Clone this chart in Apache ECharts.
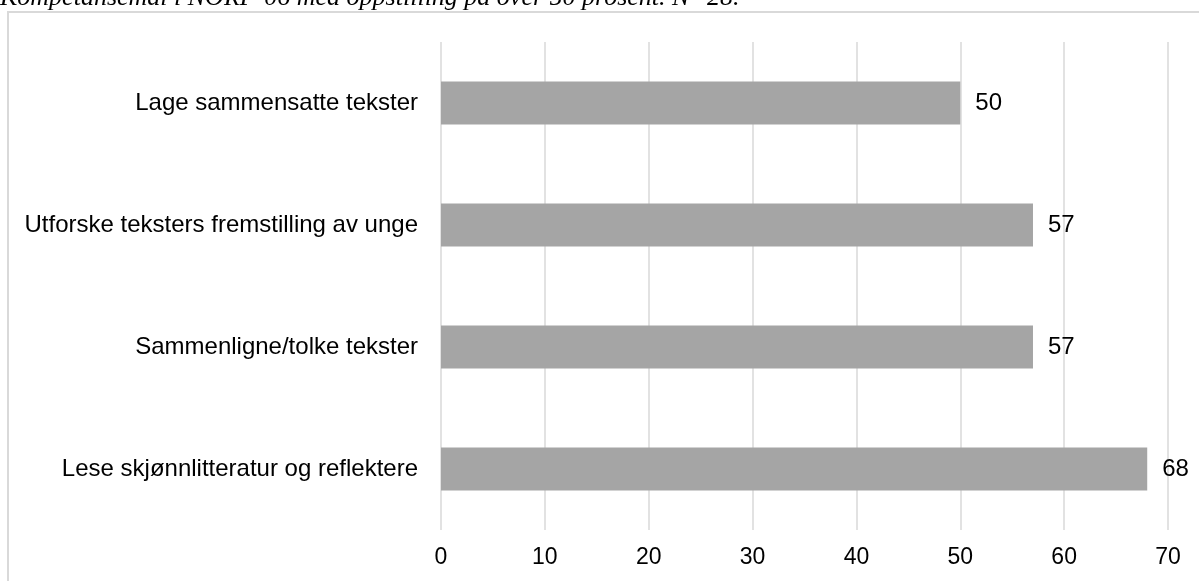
<!DOCTYPE html>
<html>
<head>
<meta charset="utf-8">
<script src="https://cdn.jsdelivr.net/npm/echarts@6/dist/echarts.min.js"></script>
<style>
  html, body { margin: 0; padding: 0; background: #ffffff; }
  #chart { width: 1199px; height: 581px; }
</style>
</head>
<body>
<div id="chart"></div>
<script>
// Competence goals, share of schools (percent)
const titleText = 'Kompetansemål i NORF-06 med oppstilling på over 50 prosent. N=28.';
const categories = [
  'Lage sammensatte tekster',
  'Utforske teksters fremstilling av unge',
  'Sammenligne/tolke tekster',
  'Lese skjønnlitteratur og reflektere'
];
const values = [50, 57, 57, 68];
const axisMin = 0;
const axisMax = 70;
const axisStep = 10;

const chart = echarts.init(document.getElementById('chart'), null, { renderer: 'canvas' });

const labelFont = 'Arial, "Liberation Sans", Helvetica, sans-serif';
const textColor = '#000000';
const gridColor = '#d9d9d9';

chart.setOption({
  backgroundColor: '#ffffff',
  animation: false,
  graphic: [
    {
      type: 'rect',
      silent: true,
      shape: { x: 8, y: 12, width: 1400, height: 800 },
      style: { fill: 'none', stroke: gridColor, lineWidth: 2 }
    },
    {
      type: 'text',
      silent: true,
      x: 0,
      y: -2,
      style: {
        text: titleText,
        font: 'italic 26px "Liberation Serif", "Times New Roman", serif',
        fill: '#000000',
        verticalAlign: 'middle',
        align: 'left'
      }
    }
  ],
  grid: {
    left: 441,
    right: 31,
    top: 42,
    bottom: 51,
    containLabel: false
  },
  xAxis: {
    type: 'value',
    min: axisMin,
    max: axisMax,
    interval: axisStep,
    axisLine: { show: false },
    axisTick: { show: false },
    splitLine: { show: true, lineStyle: { color: gridColor, width: 1.5 } },
    axisLabel: {
      margin: 16,
      fontSize: 23,
      fontFamily: labelFont,
      color: textColor
    }
  },
  yAxis: {
    type: 'category',
    data: categories,
    inverse: true,
    axisLine: { show: false },
    axisTick: { show: false },
    splitLine: { show: false },
    axisLabel: {
      margin: 23,
      fontSize: 24,
      fontFamily: labelFont,
      color: textColor
    }
  },
  series: [
    {
      type: 'bar',
      data: values,
      barWidth: 43,
      itemStyle: { color: '#a5a5a5' },
      label: {
        show: true,
        position: 'right',
        distance: 15,
        fontSize: 24,
        fontFamily: labelFont,
        color: textColor
      }
    }
  ]
});
</script>
</body>
</html>
